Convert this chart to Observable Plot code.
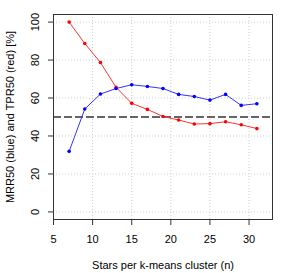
<!DOCTYPE html>
<html>
<head>
<meta charset="utf-8">
<script src="https://cdn.jsdelivr.net/npm/d3@7"></script>
<script src="https://cdn.jsdelivr.net/npm/@observablehq/plot@0.6"></script>
<style>
  html, body { margin: 0; padding: 0; background: #fff; }
  svg { display: block; }
</style>
</head>
<body>
<div id="chart"></div>
<script>
const stars = [7, 9, 11, 13, 15, 17, 19, 21, 23, 25, 27, 29, 31];
const mrr50 = [31.9, 54.2, 62.1, 65.0, 67.0, 66.1, 65.0, 61.9, 60.8, 58.9, 61.9, 56.1, 57.0];
const tpr50 = [100.0, 88.7, 78.7, 65.6, 57.2, 54.0, 50.3, 48.4, 46.3, 46.5, 47.5, 45.9, 43.9];
const xTicks = [5, 10, 15, 20, 25, 30];
const yTicks = [0, 20, 40, 60, 80, 100];
const threshold = [50];

const blue = stars.map((n, i) => ({n, v: mrr50[i]}));
const red = stars.map((n, i) => ({n, v: tpr50[i]}));

const chart = Plot.plot({
  width: 299,
  height: 273,
  marginLeft: 53,
  marginRight: 27,
  marginTop: 14,
  marginBottom: 54,
  style: {fontFamily: "'Liberation Sans', Arial, sans-serif", fontSize: "11px", color: "#000", background: "#fff"},
  x: {domain: [5, 33]},
  y: {domain: [-4, 104]},
  marks: [
    Plot.gridX(xTicks, {stroke: "#cfcfcf", strokeOpacity: 1, strokeDasharray: "1,2"}),
    Plot.gridY(yTicks, {stroke: "#cfcfcf", strokeOpacity: 1, strokeDasharray: "1,2"}),
    Plot.frame({stroke: "#333"}),
    Plot.axisX(xTicks, {tickSize: 6, tickPadding: 10, fontSize: 11, label: "Stars per k-means cluster (n)", labelAnchor: "center", labelArrow: "none", labelOffset: 49, stroke: "#333"}),
    Plot.axisY(yTicks, {tickSize: 5, tickPadding: 10, tickRotate: -90, fontSize: 11, label: "MRR50 (blue) and TPR50 (red) [%]", labelAnchor: "center", labelArrow: "none", labelOffset: 47, stroke: "#333"}),
    Plot.ruleY(threshold, {stroke: "#333", strokeWidth: 1.3, strokeDasharray: "8,3"}),
    Plot.line(red, {x: "n", y: "v", stroke: "#ff3333", strokeWidth: 1}),
    Plot.dot(red, {x: "n", y: "v", fill: "red", r: 1.8}),
    Plot.line(blue, {x: "n", y: "v", stroke: "#3333ff", strokeWidth: 1}),
    Plot.dot(blue, {x: "n", y: "v", fill: "blue", r: 1.8})
  ]
});
document.getElementById("chart").appendChild(chart);
</script>
</body>
</html>
